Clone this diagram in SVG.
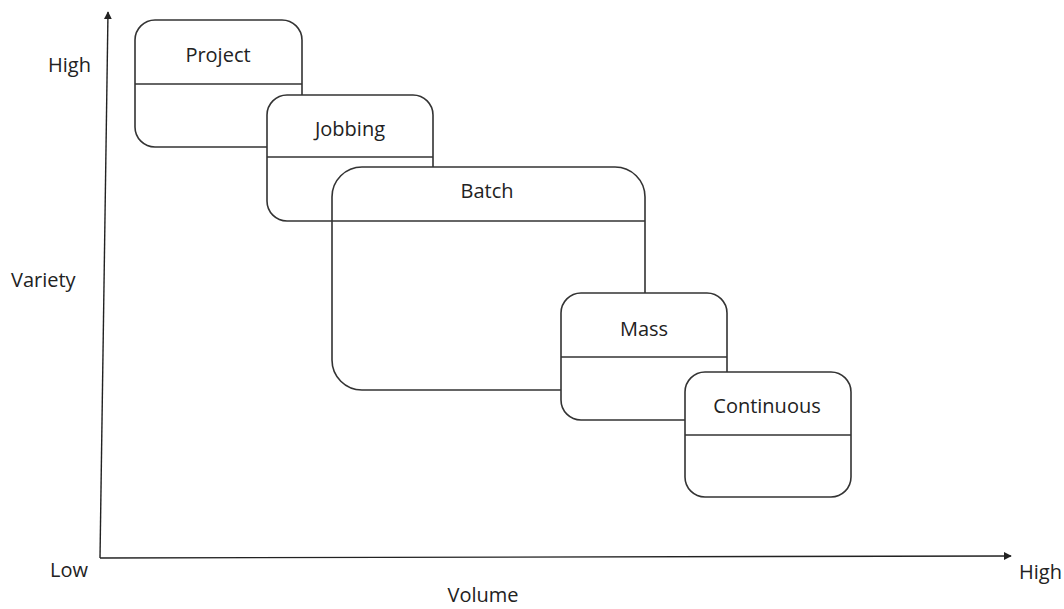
<svg xmlns="http://www.w3.org/2000/svg" width="1064" height="609" viewBox="0 0 1064 609">
  <style>
    .box { fill: #ffffff; stroke: #333333; stroke-width: 1.6; }
    .div { stroke: #333333; stroke-width: 1.6; }
    .axis { stroke: #222222; stroke-width: 1.4; fill: none; }
    text { font-family: "Open Sans", "Noto Sans", "Liberation Sans", sans-serif; font-size: 20px; fill: #222222; }
    .c { text-anchor: middle; }
  </style>
  <defs>
    <marker id="arrow" viewBox="0 0 10 10" refX="9" refY="5" markerWidth="8" markerHeight="8" orient="auto" markerUnits="userSpaceOnUse">
      <path d="M0,0 L10,5 L0,10 Z" fill="#222222"/>
    </marker>
  </defs>

  <!-- axes -->
  <g id="connectors">
    <line class="axis" x1="100" y1="558" x2="108" y2="12" marker-end="url(#arrow)"/>
    <line class="axis" x1="100" y1="558" x2="1011" y2="556" marker-end="url(#arrow)"/>
  </g>

  <!-- axis labels -->
  <g id="labels">
    <text x="48" y="72">High</text>
    <text x="11" y="287">Variety</text>
    <text x="50" y="577">Low</text>
    <text x="483" y="602" class="c">Volume</text>
    <text x="1019" y="579">High</text>
  </g>

  <g id="project">
    <rect class="box" x="135" y="20" width="167" height="127" rx="20"/>
    <line class="div" x1="135" y1="84" x2="302" y2="84"/>
    <text x="218" y="62" class="c">Project</text>
  </g>

  <g id="jobbing">
    <rect class="box" x="267" y="95" width="166" height="126" rx="20"/>
    <line class="div" x1="267" y1="157" x2="433" y2="157"/>
    <text x="350" y="136" class="c">Jobbing</text>
  </g>

  <g id="batch">
    <rect class="box" x="332" y="167" width="313" height="223" rx="30"/>
    <line class="div" x1="332" y1="221" x2="645" y2="221"/>
    <text x="487" y="198" class="c">Batch</text>
  </g>

  <g id="mass">
    <rect class="box" x="561" y="293" width="166" height="127" rx="20"/>
    <line class="div" x1="561" y1="357" x2="727" y2="357"/>
    <text x="644" y="336" class="c">Mass</text>
  </g>

  <g id="continuous">
    <rect class="box" x="685" y="372" width="166" height="125" rx="20"/>
    <line class="div" x1="685" y1="435" x2="851" y2="435"/>
    <text x="767" y="413" class="c">Continuous</text>
  </g>
</svg>
